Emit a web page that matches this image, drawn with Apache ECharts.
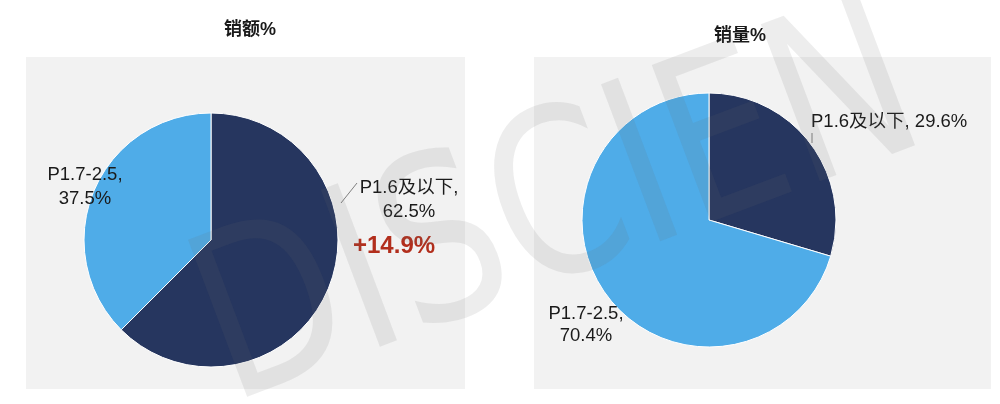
<!DOCTYPE html>
<html>
<head>
<meta charset="utf-8">
<script src="https://cdn.jsdelivr.net/npm/echarts@6/dist/echarts.min.js"></script>
<style>
html,body{margin:0;padding:0;background:#fff;}
#chart{width:1000px;height:404px;}
</style>
</head>
<body>
<div id="chart"></div>
<script>
const categories = ['P1.6及以下', 'P1.7-2.5'];
const salesValueShare = [62.5, 37.5];
const salesVolumeShare = [29.6, 70.4];
const chartTitles = ['销额%', '销量%'];
const growthNote = '+14.9%';
const sliceColors = ['#26365F', '#4FACE8'];

const FONT = '"Liberation Sans", Arial, "Noto Sans CJK SC", sans-serif';

const chart = echarts.init(document.getElementById('chart'), null, {renderer: 'canvas'});

function toData(vals) {
  return categories.map((c, i) => ({name: c, value: vals[i], itemStyle: {color: sliceColors[i]}}));
}

// label positions per series / data index
const labelPos = [
  [ {x: 409, y: 200, align: 'center', line: [[341, 203], [349, 193], [357, 183]]},
    {x: 85, y: 187, align: 'center'} ],
  [ {x: 811, y: 122, align: 'left', line: [[812, 143], [812, 138], [812, 133]]},
    {x: 586, y: 325, align: 'center'} ]
];

function makePie(idx, vals, cx, cy, fmt) {
  return {
    type: 'pie',
    center: [cx, cy],
    radius: [0, 127],
    startAngle: 90,
    clockwise: true,
    animation: false,
    silent: true,
    data: toData(vals),
    itemStyle: {borderColor: '#ffffff', borderWidth: 1},
    label: {
      show: true,
      color: '#1a1a1a',
      fontFamily: FONT,
      fontSize: 18.5,
      lineHeight: idx === 0 ? 24 : 22,
      overflow: 'none',
      formatter: fmt
    },
    labelLine: {show: true, lineStyle: {color: '#7f7f7f', width: 1}, length: 5, length2: 5},
    labelLayout: function (p) {
      const lp = labelPos[idx][p.dataIndex];
      const r = {x: lp.x, y: lp.y, align: lp.align, verticalAlign: 'middle', hideOverlap: false, moveOverlap: false};
      if (lp.line) r.labelLinePoints = lp.line; else r.labelLinePoints = [[-100,-100],[-100,-100],[-100,-100]];
      return r;
    }
  };
}

const option = {
  backgroundColor: '#ffffff',
  title: [
    {text: chartTitles[0], left: 245, top: 16, textAlign: 'center',
     textStyle: {fontFamily: FONT, fontSize: 18, fontWeight: 'bold', color: '#1a1a1a'}},
    {text: chartTitles[1], left: 735, top: 22, textAlign: 'center',
     textStyle: {fontFamily: FONT, fontSize: 18, fontWeight: 'bold', color: '#1a1a1a'}}
  ],
  graphic: [
    {type: 'rect', z: -10, shape: {x: 26, y: 57, width: 439, height: 332}, style: {fill: '#F2F2F2'}},
    {type: 'rect', z: -10, shape: {x: 534, y: 57, width: 457, height: 332}, style: {fill: '#F2F2F2'}},
    {type: 'text', z: 10, left: 353, top: 234,
     style: {text: growthNote, fill: '#B22E1C', font: 'bold 24px "Liberation Sans", Arial, sans-serif'}},
    {type: 'text', z: 100, x: 560, y: 215, rotation: 0.36, scaleX: 0.8,
     style: {text: 'DISCIEN', fill: 'rgba(107,107,107,0.12)', font: '230px "DejaVu Sans"', align: 'center', verticalAlign: 'middle'}}
  ],
  series: [
    makePie(0, salesValueShare, 211, 240, function (p) { return p.name + ',\n' + p.value.toFixed(1) + '%'; }),
    makePie(1, salesVolumeShare, 709, 220, function (p) {
      return p.dataIndex === 0 ? p.name + ', ' + p.value.toFixed(1) + '%' : p.name + ',\n' + p.value.toFixed(1) + '%';
    })
  ]
};
chart.setOption(option);
</script>
</body>
</html>
